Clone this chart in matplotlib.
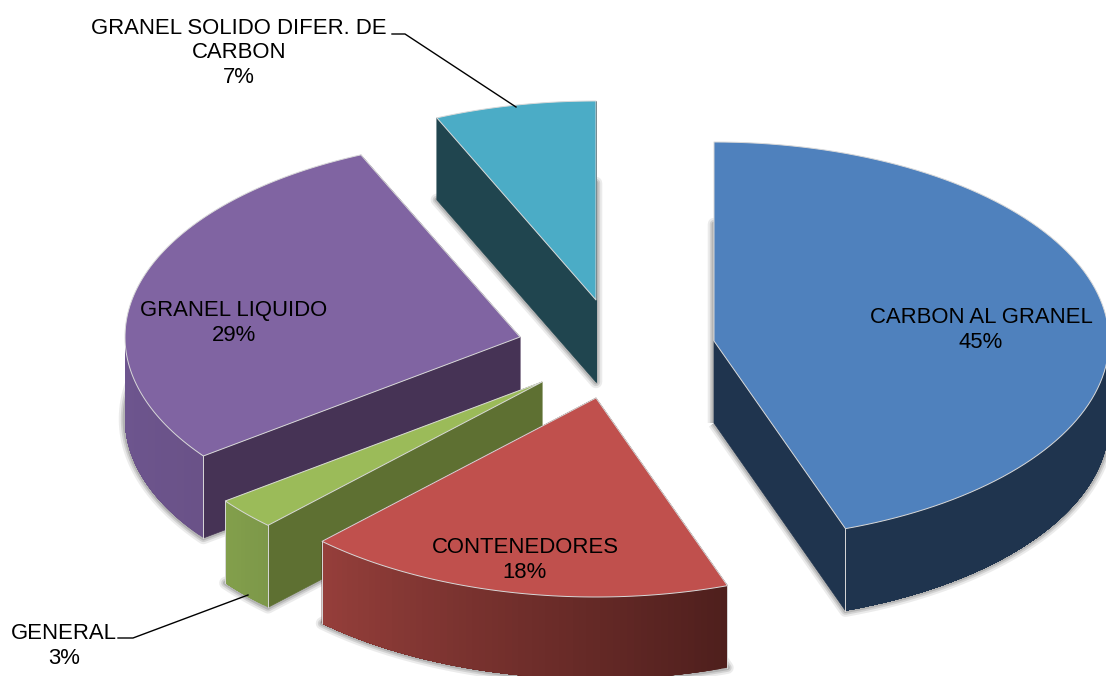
# -*- coding: utf-8 -*-
import numpy as np
from matplotlib import pyplot as plt
from matplotlib.colors import to_rgb

categories = ["CARBON AL GRANEL", "CONTENEDORES", "GENERAL", "GRANEL LIQUIDO",
              "GRANEL SOLIDO DIFER. DE\nCARBON"]
shares = [44.6, 17.6, 2.6, 28.6, 6.6]

top_colors = ["#4F81BD", "#C0504D", "#9BBB59", "#8064A2", "#4BACC6"]
cut_colors = ["#1F344E", "#4F1F1D", "#5E7032", "#463355", "#20454F"]
# rim colour at the slice's first and last angle
rim_first = ["#1F344E", "#4F1F1D", "#7D9849", "#6A5288", "#20454F"]
rim_last = ["#1F344E", "#963F3B", "#83A04C", "#6E5690", "#20454F"]

# where each slice's tip sits after the explosion, in pixels
tip_x = [714, 596, 542, 520, 596]
tip_y = [341, 398, 382, 337, 300]
label_x = [981, 525, 64, 234, 239]
label_y = [330, 560, 646, 323, 53]

RX = 395
RY = 199
DEPTH = 82
EDGE = "#d9d9d9"


def arc(cx, cy, t0, t1, n=100):
    t = np.radians(np.linspace(t0, t1, n))
    return cx + RX * np.sin(t), cy - RY * np.cos(t)


def draw_slice(i, t0, t1):
    cx, cy = tip_x[i], tip_y[i]
    xs, ys = arc(cx, cy, t0, t1)
    px = np.r_[cx, xs]
    py = np.r_[cy, ys]

    # soft shadow round the bottom face
    for lw, al in zip([9, 6, 3.5], [0.1, 0.15, 0.2]):
        ax.fill(px, py + DEPTH, fc="none", ec="#404040", lw=lw, alpha=al, joinstyle="round")

    # cut faces
    for ex, ey in [(xs[0], ys[0]), (xs[-1], ys[-1])]:
        ax.fill([cx, ex, ex, cx], [cy, ey, ey + DEPTH, cy + DEPTH], fc=cut_colors[i], ec=cut_colors[i], lw=0.5)

    # outer rim, front half only; each step overlaps the next so no seams show
    a0, a1 = max(t0, 90), min(t1, 270)
    if a1 > a0:
        c0, c1 = np.array(to_rgb(rim_first[i])), np.array(to_rgb(rim_last[i]))
        steps = np.linspace(a0, a1, int(a1 - a0) + 2)
        for k in range(len(steps) - 1):
            x2, y2 = arc(cx, cy, steps[k], a1, 60)
            col = c0 + (c1 - c0) * k / (len(steps) - 1)
            ax.fill(np.r_[x2, x2[::-1]], np.r_[y2, y2[::-1] + DEPTH], fc=col, ec="none")

    # light lines on the front corners
    for t, ex, ey in [(t0, xs[0], ys[0]), (t1, xs[-1], ys[-1])]:
        if 90 < t < 270:
            ax.plot([ex, ex], [ey, ey + DEPTH], color=EDGE, lw=0.7)

    ax.fill(px, py, fc=top_colors[i], ec=EDGE, lw=0.7, joinstyle="round")


fig = plt.figure(figsize=(11.06, 6.76), dpi=100)
ax = fig.add_axes([0, 0, 1, 1])
ax.set_xlim(0, 1106)
ax.set_ylim(676, 0)
ax.axis("off")

angles = np.r_[0, np.cumsum(shares)] / sum(shares) * 360
for i in [4, 3, 2, 1, 0]:
    draw_slice(i, angles[i], angles[i + 1])

# leader lines
ax.plot([516, 405, 392], [107, 34, 34], color="black", lw=1.0)
ax.plot([248, 133, 118], [595, 638, 638], color="black", lw=1.0)

for name, s, x, y in zip(categories, shares, label_x, label_y):
    ax.text(x, y, "%s\n%d%%" % (name, round(s)), ha="center", va="center", fontsize=15.9,
            family="Liberation Sans", color="black", linespacing=1.22, multialignment="center")

plt.savefig("out.png", dpi=100)
